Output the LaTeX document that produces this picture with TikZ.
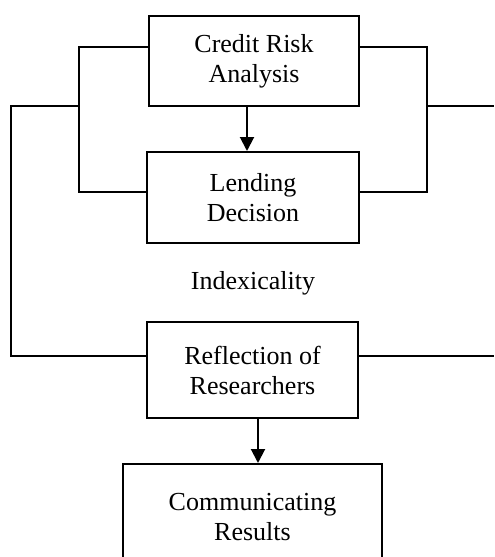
\documentclass[tikz,border=0pt]{standalone}
\usepackage{fontspec}
\setmainfont{Liberation Serif}
\usetikzlibrary{arrows.meta}
\begin{document}
\begin{tikzpicture}[x=0.5pt,y=-0.5pt,
  every node/.style={font=\fontsize{13}{15}\selectfont, align=center, inner sep=0pt},
  box/.style={draw, line width=1pt, minimum width=105pt},
  conn/.style={line width=1pt},
  arr/.style={line width=1pt, -{Triangle[length=7pt,width=7pt]}}]
\useasboundingbox (0,0) rectangle (494,557);
\node[box, minimum height=45pt] (credit) at (254,61) {Credit Risk\\Analysis};
\node[box, minimum height=45.5pt, minimum width=106pt] (lending) at (253,197.5) {Lending\\Decision};
\node (index) at (253,283) {Indexicality};
\node[box, minimum height=48pt, minimum width=105.5pt] (reflect) at (252.5,370) {Reflection of\\Researchers};
\node[box, minimum height=53pt, minimum width=129.5pt] (comm) at (252.5,517) {Communicating\\Results};
% coordinates
\coordinate (lt) at (79,47);
\coordinate (lb) at (79,192);
\coordinate (lo) at (79,106);
\coordinate (ol1) at (11,106);
\coordinate (ol2) at (11,356);
\coordinate (rt) at (427,47);
\coordinate (rb) at (427,192);
\coordinate (ro) at (427,106);
\coordinate (or1) at (494,106);
\coordinate (or2) at (494,356);
\coordinate (a1) at (247,0);
\coordinate (a2) at (258,0);
% brackets
\draw[conn] (credit.west |- lt) -- (lt) -- (lb) -- (lending.west |- lb);
\draw[conn] (credit.east |- rt) -- (rt) -- (rb) -- (lending.east |- rb);
\draw[conn] (lo) -- (ol1) -- (ol2) -- (reflect.west |- ol2);
\draw[conn] (ro) -- (or1);
\draw[conn] (reflect.east |- or2) -- (or2);
% arrows
\draw[arr] (credit.south -| a1) -- (lending.north -| a1);
\draw[arr] (reflect.south -| a2) -- (comm.north -| a2);
\end{tikzpicture}
\end{document}
